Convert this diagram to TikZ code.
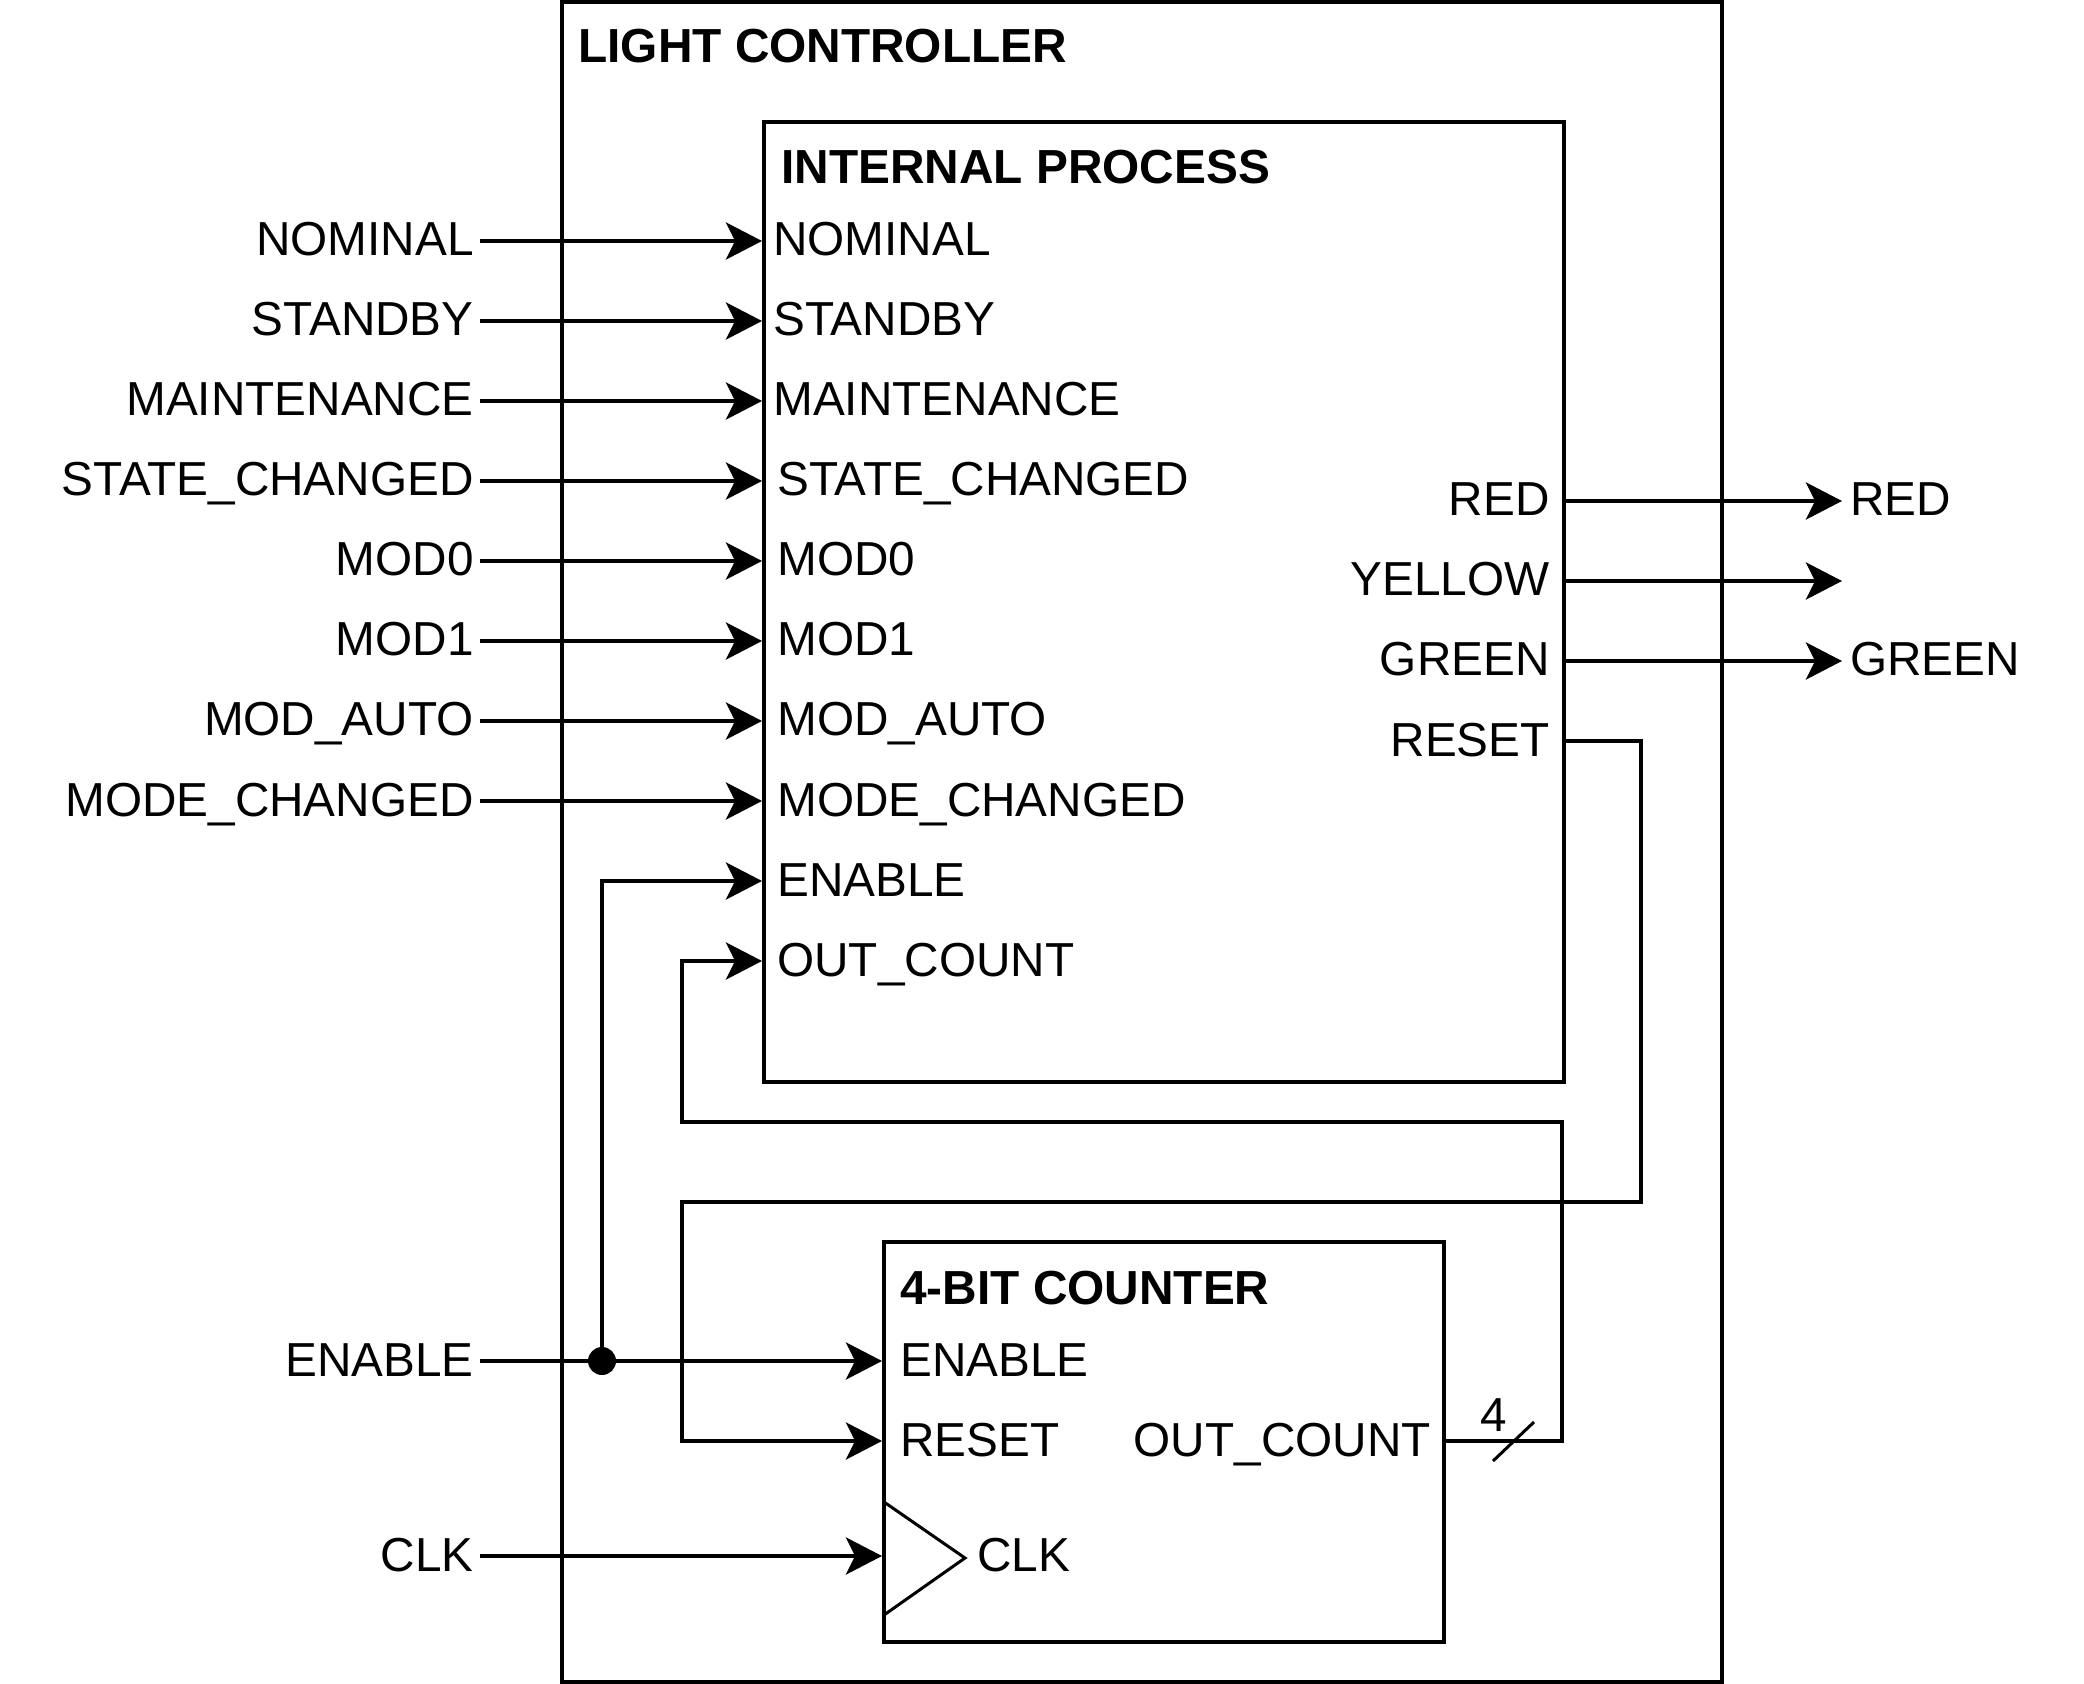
\documentclass[tikz,border=0pt]{standalone}
\usepackage{fontspec}
\setmainfont{Liberation Sans}
\usetikzlibrary{arrows.meta}
\begin{document}
\begin{tikzpicture}[x=0.5pt,y=-0.5pt,
  box/.style={draw, line width=2pt, inner sep=0pt, outer sep=0pt, anchor=north west},
  lbl/.style={font=\fontsize{23.85}{28}\selectfont, inner sep=0pt, text height=17pt, text depth=2pt},
  ttl/.style={font=\fontsize{23.9}{28}\selectfont\bfseries, inner sep=0pt, anchor=west, text height=17pt, text depth=0pt},
  wire/.style={line width=2pt},
  tip/.style={-{Stealth[length=18pt,width=18.5pt,inset=4.5pt]}},
  arr/.style={wire, tip},
  inarr/.style={wire, tip, shorten >=1pt},
  thinline/.style={line width=1.5pt}]
\useasboundingbox (0,0) rectangle (2084,1684);

% boxes
\node[box, minimum width=580pt, minimum height=840pt] (lc) at (562,2) {};
\node[box, minimum width=400pt, minimum height=480pt] (ip) at (764,122) {};
\node[box, minimum width=280pt, minimum height=200pt] (cnt) at (884,1242) {};

% titles
\node[ttl] (lcT) at (578,45.5) {LIGHT CONTROLLER};
\node[ttl] (ipT) at (781,166.5) {INTERNAL PROCESS};
\node[ttl] (cntT) at (900,1287) {4-BIT COUNTER};

% outer input labels
\node[lbl, anchor=east] (lNOM) at (474,241) {NOMINAL};
\node[lbl, anchor=east] (lSTB) at (474,321) {STANDBY};
\node[lbl, anchor=east] (lMNT) at (474,401) {MAINTENANCE};
\node[lbl, anchor=east] (lSTC) at (474,481) {STATE\_CHANGED};
\node[lbl, anchor=east] (lM0) at (474,561) {MOD0};
\node[lbl, anchor=east] (lM1) at (474,641) {MOD1};
\node[lbl, anchor=east] (lMA) at (474,721) {MOD\_AUTO};
\node[lbl, anchor=east] (lMC) at (474,801) {MODE\_CHANGED};
\node[lbl, anchor=east] (lEN) at (474,1361) {ENABLE};
\node[lbl, anchor=east] (lCLK) at (474,1556) {CLK};

% internal process input labels
\node[lbl, anchor=west] (iNOM) at (773,241) {NOMINAL};
\node[lbl, anchor=west] (iSTB) at (773,321) {STANDBY};
\node[lbl, anchor=west] (iMNT) at (773,401) {MAINTENANCE};
\node[lbl, anchor=west] (iSTC) at (777,481) {STATE\_CHANGED};
\node[lbl, anchor=west] (iM0) at (777,561) {MOD0};
\node[lbl, anchor=west] (iM1) at (777,641) {MOD1};
\node[lbl, anchor=west] (iMA) at (777,721) {MOD\_AUTO};
\node[lbl, anchor=west] (iMC) at (777,801) {MODE\_CHANGED};
\node[lbl, anchor=west] (iEN) at (777,881) {ENABLE};
\node[lbl, anchor=west] (iOUT) at (777,961) {OUT\_COUNT};

% internal process output labels
\node[lbl, anchor=east] (iRED) at (1550,501) {RED};
\node[lbl, anchor=east] (iYEL) at (1550,581) {YELLOW};
\node[lbl, anchor=east] (iGRN) at (1550,661) {GREEN};
\node[lbl, anchor=east] (iRST) at (1550,741) {RESET};

% outer output labels
\node[lbl, anchor=west] (oRED) at (1850,501) {RED};
\node[lbl, anchor=west] (oGRN) at (1850,661) {GREEN};
\coordinate (oYEL) at (1842,581);

% counter labels
\node[lbl, anchor=west] (cEN) at (900,1361) {ENABLE};
\node[lbl, anchor=west] (cRST) at (900,1441) {RESET};
\node[lbl, anchor=east] (cOUT) at (1431,1441) {OUT\_COUNT};
\node[lbl, anchor=west] (cCLK) at (977,1556) {CLK};
\node[lbl] (bus4) at (1494,1416) {4};

% clock triangle
\draw[thinline] (884,1502) -- (965,1558) -- (884,1615);

% input arrows
\foreach \a/\b in {lNOM/iNOM, lSTB/iSTB, lMNT/iMNT, lSTC/iSTC, lM0/iM0, lM1/iM1, lMA/iMA, lMC/iMC}
  \draw[inarr] ([xshift=3pt]\a.east) -- (ip.west |- \b);

% outputs
\draw[arr] (ip.east |- iRED) -- ([xshift=-4pt]oRED.west);
\draw[arr] (ip.east |- iYEL) -- (oYEL);
\draw[arr] (ip.east |- iGRN) -- ([xshift=-4pt]oGRN.west);

% enable with junction
\coordinate (dot) at (602,1361);
\draw[inarr] ([xshift=3pt]lEN.east) -- (cnt.west |- cEN);
\draw[inarr] (dot) |- (ip.west |- iEN);
\fill (dot) circle (7pt);

% clock
\draw[inarr] ([xshift=3pt]lCLK.east) -- (cnt.west |- cCLK);

% reset loop
\coordinate (r1) at (1641,1202);
\coordinate (r2) at (682,1202);
\draw[inarr] (ip.east |- iRST) -| (r1) -- (r2) |- (cnt.west |- cRST);

% out_count loop
\coordinate (o1) at (1562,1122);
\coordinate (o2) at (682,1122);
\draw[inarr] (cnt.east |- cOUT) -| (o1) -- (o2) |- (ip.west |- iOUT);

% bus slash
\draw[thinline] (1493,1461) -- (1534,1422);
\end{tikzpicture}
\end{document}
